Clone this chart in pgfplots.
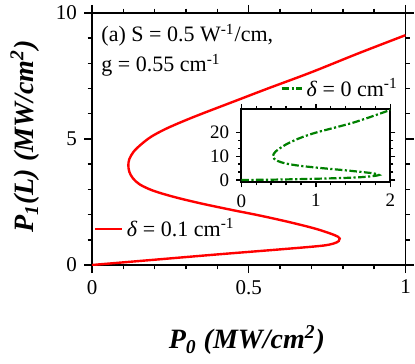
\documentclass[border=0pt]{standalone}
\usepackage{fontspec}
\setmainfont{Liberation Serif}
\usepackage{pgfplots}
\pgfplotsset{compat=1.18}
\definecolor{cRed}{RGB}{255,0,0}
\definecolor{cGreen}{RGB}{0,128,0}
\pgfplotsset{
  frame/.style={
    scale only axis, tick align=outside,
    axis line style={line width=0.9pt},
    every tick/.style={black, line width=0.7pt},
    /pgf/number format/assume math mode=true,
  }
}

\begin{document}
\begin{tikzpicture}
\useasboundingbox (0,0) rectangle (207.5pt,181.5pt);
% main panel
\begin{axis}[frame,
  at={(46pt,49pt)}, anchor=south west,
  width=156.75pt, height=126pt,
  xmin=0, xmax=1, ymin=0, ymax=10,
  xtick={0,0.5,1}, ytick={0,5,10},
  minor x tick num=4, minor y tick num=4,
  major tick length=4pt, minor tick length=2.2pt,
  ticklabel style={font=\fontsize{10.5}{12}\selectfont},
  label style={font=\fontsize{14}{16}\selectfont\bfseries\itshape},
  xlabel={P\textsubscript{0} (MW/cm\textsuperscript{2})},
  ylabel={P\textsubscript{1}(L) (MW/cm\textsuperscript{2})},
  xlabel style={at={(axis description cs:0.494,-0.2976)}, anchor=center},
  ylabel style={at={(axis description cs:-0.2137,0.51)}, anchor=center},
  legend style={draw=none, fill=none, inner sep=0pt,
    at={(0.005,0.143)}, anchor=west,
    font=\fontsize{11}{13}\selectfont},
  legend image code/.code={\draw[#1] (0pt,0pt) -- (13.3pt,0pt);},
]
\addplot[cRed, line width=1.2pt, smooth, tension=0.55] coordinates {
  (0,0) (0.2,0.21) (0.4,0.42) (0.6,0.62) (0.73,0.76) (0.77,0.85)
  (0.787,0.95) (0.79,1.05) (0.785,1.12) (0.76,1.25) (0.71,1.45)
  (0.63,1.70) (0.54,1.95) (0.44,2.20) (0.345,2.45) (0.262,2.70)
  (0.195,2.95) (0.152,3.20) (0.130,3.45) (0.119,3.70) (0.116,3.95)
  (0.119,4.20) (0.133,4.50) (0.158,4.80) (0.19,5.10) (0.235,5.40)
  (0.29,5.70) (0.35,6.00) (0.455,6.50) (0.56,7.00) (0.70,7.65)
  (0.85,8.40) (1.0,9.12)
};
\addlegendentry{\textit{δ} = 0.1 cm\textsuperscript{-1}}
\node[anchor=base west, inner sep=0pt, font=\fontsize{11}{13}\selectfont]
  at (axis cs:0.029,8.85) {(a) S = 0.5 W\textsuperscript{-1}/cm,};
\node[anchor=base west, inner sep=0pt, font=\fontsize{11}{13}\selectfont]
  at (axis cs:0.029,7.66) {g = 0.55 cm\textsuperscript{-1}};
\end{axis}

% inset
\begin{axis}[frame,
  at={(120.65pt,90.35pt)}, anchor=south west,
  width=74.5pt, height=36.65pt,
  xmin=0, xmax=2, ymin=-1, ymax=30,
  xtick={0,1,2}, ytick={0,10,20},
  minor x tick num=4, minor y tick num=2,
  major tick length=2.5pt, minor tick length=1.5pt,
  ticklabel style={font=\fontsize{9.5}{10}\selectfont},
  legend style={draw=none, fill=none, inner sep=0pt,
    at={(0.26,1.28)}, anchor=west,
    font=\fontsize{11}{13}\selectfont},
  legend image code/.code={\draw[#1] (0pt,0pt) -- (10pt,0pt);},
]
\addplot[cGreen, line width=1.1pt, smooth, tension=0.5,
  dash pattern=on 3.8pt off 1.2pt on 1.1pt off 1.2pt] coordinates {
  (0,0) (0.4,0.1) (1.0,0.5) (1.52,1.0) (1.76,1.6) (1.85,2.1)
  (1.80,2.6) (1.72,3.0) (1.42,4.0) (1.08,5.0) (0.78,6.0) (0.59,7.0)
  (0.49,8.0) (0.44,9.0) (0.425,10.0) (0.435,11.0) (0.46,12.0)
  (0.50,13.0) (0.60,15.0) (0.77,17.5) (1.0,20.0) (1.52,24.4) (2.0,29.6)
};
\addlegendentry{\textit{δ} = 0 cm\textsuperscript{-1}}
\end{axis}
\end{tikzpicture}
\end{document}
